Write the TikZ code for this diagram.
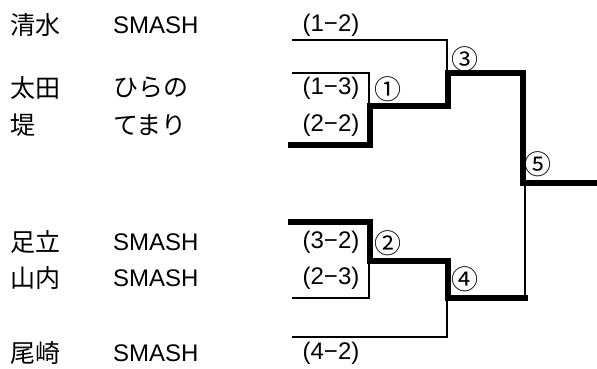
\documentclass[tikz,border=0pt]{standalone}
\usepackage{fontspec}
\setmainfont{Liberation Sans}
\newfontfamily\jpfont{Noto Sans CJK JP}
\begin{document}
\begin{tikzpicture}[x=1pt,y=-1pt,
  txt/.style={inner sep=0pt, font=\jpfont\fontsize{25}{25}\selectfont},
  lat/.style={inner sep=0pt, font=\fontsize{24}{24}\selectfont},
  num/.style={inner sep=0pt, font=\jpfont\fontsize{27}{27}\selectfont},
  thin/.style={line width=2pt, line join=miter},
  thick/.style={line width=6.5pt, line join=miter}]
\useasboundingbox (0,0) rectangle (597,369);
% names
\node[txt, anchor=west] (n1) at (10,25) {清水};
\node[txt, anchor=west] (n2) at (10,88) {太田};
\node[txt, anchor=west] (n3) at (10,125) {堤};
\node[txt, anchor=west] (n4) at (10,242) {足立};
\node[txt, anchor=west] (n5) at (10,278) {山内};
\node[txt, anchor=west] (n6) at (10,353) {尾崎};
% teams
\node[lat, anchor=west] (t1) at (113,25) {SMASH};
\node[txt, anchor=west] (t2) at (113,88) {ひらの};
\node[txt, anchor=west] (t3) at (113,125) {てまり};
\node[lat, anchor=west] (t4) at (113,242) {SMASH};
\node[lat, anchor=west] (t5) at (113,278) {SMASH};
\node[lat, anchor=west] (t6) at (113,353) {SMASH};
% scores
\node[lat] (s1) at (331,25) {(1−2)};
\node[lat] (s2) at (331,88) {(1−3)};
\node[lat] (s3) at (331,125) {(2−2)};
\node[lat] (s4) at (331,242) {(3−2)};
\node[lat] (s5) at (331,278) {(2−3)};
\node[lat] (s6) at (331,353) {(4−2)};
% match numbers
\node[num] (m1) at (388,89) {①};
\node[num] (m2) at (388,243) {②};
\node[num] (m3) at (465,59) {③};
\node[num] (m4) at (465,279) {④};
\node[num] (m5) at (538,164) {⑤};
% corners
\coordinate (a0) at (292,40);  \coordinate (a1) at (447,40);  \coordinate (a2) at (447,73);
\coordinate (b0) at (292,73);  \coordinate (b1) at (369,73);  \coordinate (b2) at (369,106);
\coordinate (c0) at (292,298); \coordinate (c1) at (369,298); \coordinate (c2) at (369,261);
\coordinate (d0) at (292,337); \coordinate (d1) at (447,337); \coordinate (d2) at (447,298);
\coordinate (e0) at (525,298); \coordinate (e1) at (525,183);
\coordinate (w0) at (288,145); \coordinate (w1) at (370,145); \coordinate (w2) at (370,106);
\coordinate (w3) at (448,106); \coordinate (w4) at (448,73);  \coordinate (w5) at (523,73);
\coordinate (w6) at (523,183); \coordinate (w7) at (597,183);
\coordinate (v0) at (288,222); \coordinate (v1) at (370,222); \coordinate (v2) at (370,261);
\coordinate (v3) at (448,261); \coordinate (v4) at (448,298); \coordinate (v5) at (528,298);
% thin lines
\draw[thin] (a0) -- (a1) -- (a2);
\draw[thin] (b0) -- (b1) -- (b2);
\draw[thin] (c0) -- (c1) -- (c2);
\draw[thin] (d0) -- (d1) -- (d2);
\draw[thin] (e0) -- (e1);
% thick lines
\draw[thick] (w0) -- (w1) -- (w2) -- (w3) -- (w4) -- (w5) -- (w6) -- (w7);
\draw[thick] (v0) -- (v1) -- (v2) -- (v3) -- (v4) -- (v5);
\end{tikzpicture}
\end{document}
